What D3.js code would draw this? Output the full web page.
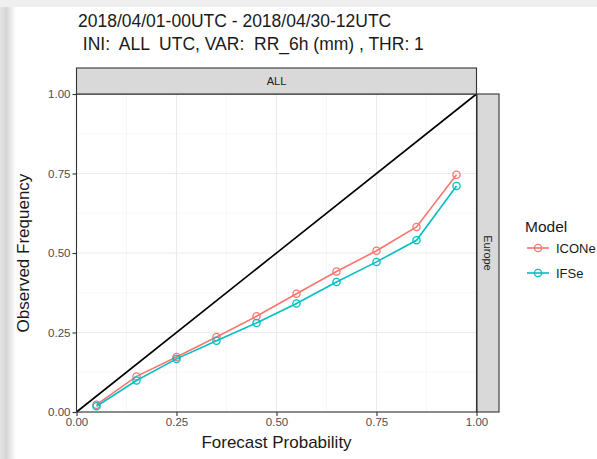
<!DOCTYPE html>
<html>
<head>
<meta charset="utf-8">
<script src="https://cdn.jsdelivr.net/npm/d3@7"></script>
<style>
  body { margin: 0; background: #fff; }
  svg { display: block; font-family: "Liberation Sans", Arial, sans-serif; }
</style>
</head>
<body>
<svg id="chart" width="597" height="459"></svg>
<script>
// forecast probability bins
const probs = [0.05, 0.15, 0.25, 0.35, 0.45, 0.55, 0.65, 0.75, 0.85, 0.95];
// observed frequency per model
const iconeFreq = [0.023, 0.112, 0.173, 0.236, 0.301, 0.372, 0.442, 0.507, 0.582, 0.746];
const ifseFreq = [0.018, 0.099, 0.167, 0.224, 0.280, 0.341, 0.409, 0.472, 0.540, 0.711];
const models = ["ICONe", "IFSe"];
const modelColors = ["#F8766D", "#00BFC4"];
const ticks = [0, 0.25, 0.5, 0.75, 1];
const minorTicks = [0.125, 0.375, 0.625, 0.875];
const titleLines = ["2018/04/01-00UTC - 2018/04/30-12UTC", " INI:  ALL  UTC, VAR:  RR_6h (mm) , THR: 1"];

const width = 597, height = 459;

const svg = d3.select("#chart");

// screenshot shading at edges
const defs = svg.append("defs");
const grad = defs.append("linearGradient").attr("id", "edge").attr("x1", 0).attr("x2", 1);
grad.append("stop").attr("offset", "0%").attr("stop-color", "#e4e4e4");
grad.append("stop").attr("offset", "40%").attr("stop-color", "#d6d6d6");
grad.append("stop").attr("offset", "100%").attr("stop-color", "#ffffff");
svg.append("rect").attr("x", 0).attr("y", 0).attr("width", 16).attr("height", height).attr("fill", "url(#edge)");
svg.append("rect").attr("x", 0).attr("y", 0).attr("width", width).attr("height", 7).attr("fill", "#efefef");

var x = d3.scaleLinear().domain([0, 1]).range([76.5, 476.5]);
var y = d3.scaleLinear().domain([0, 1]).range([412, 94]);

const plot = svg.append("g");

// grid
plot.selectAll(".minx").data(minorTicks).join("line")
  .attr("x1", d => x(d)).attr("x2", d => x(d)).attr("y1", y(0)).attr("y2", y(1))
  .attr("stroke", "#f2f2f2").attr("stroke-width", 0.6);
plot.selectAll(".miny").data(minorTicks).join("line")
  .attr("y1", d => y(d)).attr("y2", d => y(d)).attr("x1", x(0)).attr("x2", x(1))
  .attr("stroke", "#f2f2f2").attr("stroke-width", 0.6);
plot.selectAll(".majx").data(ticks).join("line")
  .attr("x1", d => x(d)).attr("x2", d => x(d)).attr("y1", y(0)).attr("y2", y(1))
  .attr("stroke", "#ebebeb").attr("stroke-width", 1.1);
plot.selectAll(".majy").data(ticks).join("line")
  .attr("y1", d => y(d)).attr("y2", d => y(d)).attr("x1", x(0)).attr("x2", x(1))
  .attr("stroke", "#ebebeb").attr("stroke-width", 1.1);

// diagonal
plot.append("line")
  .attr("x1", x(0)).attr("y1", y(0)).attr("x2", x(1)).attr("y2", y(1))
  .attr("stroke", "#000").attr("stroke-width", 1.6);

var line = d3.line().x(d => x(d[0])).y(d => y(d[1]));
const series = [iconeFreq, ifseFreq];
series.forEach((vals, i) => {
  const pts = probs.map((p, j) => [p, vals[j]]);
  plot.append("path").datum(pts)
    .attr("fill", "none").attr("stroke", modelColors[i]).attr("stroke-width", 1.6)
    .attr("d", line);
  plot.selectAll(".pt" + i).data(pts).join("circle")
    .attr("cx", d => x(d[0])).attr("cy", d => y(d[1])).attr("r", 3.6)
    .attr("fill", "none").attr("stroke", modelColors[i]).attr("stroke-width", 1.3);
});

// panel border
plot.append("rect")
  .attr("x", x(0)).attr("y", y(1)).attr("width", x(1) - x(0)).attr("height", y(0) - y(1))
  .attr("fill", "none").attr("stroke", "#333").attr("stroke-width", 1.1);

// strips
svg.append("rect").attr("x", x(0)).attr("y", 68).attr("width", x(1) - x(0)).attr("height", y(1) - 68)
  .attr("fill", "#d9d9d9").attr("stroke", "#333").attr("stroke-width", 1.1);
svg.append("text").attr("x", (x(0) + x(1)) / 2).attr("y", 81).attr("dy", "0.35em")
  .attr("text-anchor", "middle").attr("font-size", 11).attr("fill", "#1a1a1a").text("ALL");
svg.append("rect").attr("x", x(1) + 0.5).attr("y", y(1)).attr("width", 22).attr("height", y(0) - y(1))
  .attr("fill", "#d9d9d9").attr("stroke", "#333").attr("stroke-width", 1.1);
svg.append("text").attr("transform", `translate(${x(1) + 11.5},${(y(0) + y(1)) / 2}) rotate(90)`)
  .attr("dy", "0.35em").attr("text-anchor", "middle").attr("font-size", 11).attr("fill", "#1a1a1a").text("Europe");

// axes
const fmt = d3.format(".2f");
const xAxis = svg.append("g").attr("transform", `translate(0,${y(0)})`)
  .call(d3.axisBottom(x).tickValues(ticks).tickFormat(fmt).tickSize(4).tickPadding(2));
const yAxis = svg.append("g").attr("transform", `translate(${x(0)},0)`)
  .call(d3.axisLeft(y).tickValues(ticks).tickFormat(fmt).tickSize(4).tickPadding(2));
[xAxis, yAxis].forEach(g => {
  g.select(".domain").remove();
  g.selectAll(".tick line").attr("stroke", "#333").attr("stroke-width", 1.1);
  g.selectAll(".tick text").attr("fill", "#4d4d4d").attr("font-size", 11.5)
    .attr("font-family", "'Liberation Sans', Arial, sans-serif");
});

// axis titles
svg.append("text").attr("x", (x(0) + x(1)) / 2).attr("y", 448)
  .attr("text-anchor", "middle").attr("font-size", 17).attr("fill", "#1a1a1a").text("Forecast Probability");
svg.append("text").attr("transform", `translate(29,${(y(0) + y(1)) / 2}) rotate(-90)`)
  .attr("text-anchor", "middle").attr("font-size", 17).attr("fill", "#1a1a1a").text("Observed Frequency");

// title
svg.append("g").selectAll("text").data(titleLines).join("text")
  .attr("x", 78).attr("y", (d, i) => 27 + i * 23)
  .attr("font-size", 17.5).attr("fill", "#1a1a1a").attr("xml:space", "preserve")
  .style("white-space", "pre").text(d => d);

// legend
const leg = svg.append("g").attr("transform", "translate(525,0)");
leg.append("text").attr("x", 0).attr("y", 232).attr("font-size", 15.5).attr("fill", "#1a1a1a").text("Model");
models.forEach((m, i) => {
  const cy = 248 + i * 25;
  leg.append("line").attr("x1", 2).attr("x2", 24).attr("y1", cy).attr("y2", cy)
    .attr("stroke", modelColors[i]).attr("stroke-width", 1.6);
  leg.append("circle").attr("cx", 13).attr("cy", cy).attr("r", 3.6)
    .attr("fill", "none").attr("stroke", modelColors[i]).attr("stroke-width", 1.3);
  leg.append("text").attr("x", 31).attr("y", cy).attr("dy", "0.35em")
    .attr("font-size", 13).attr("fill", "#1a1a1a").text(m);
});
</script>
</body>
</html>
